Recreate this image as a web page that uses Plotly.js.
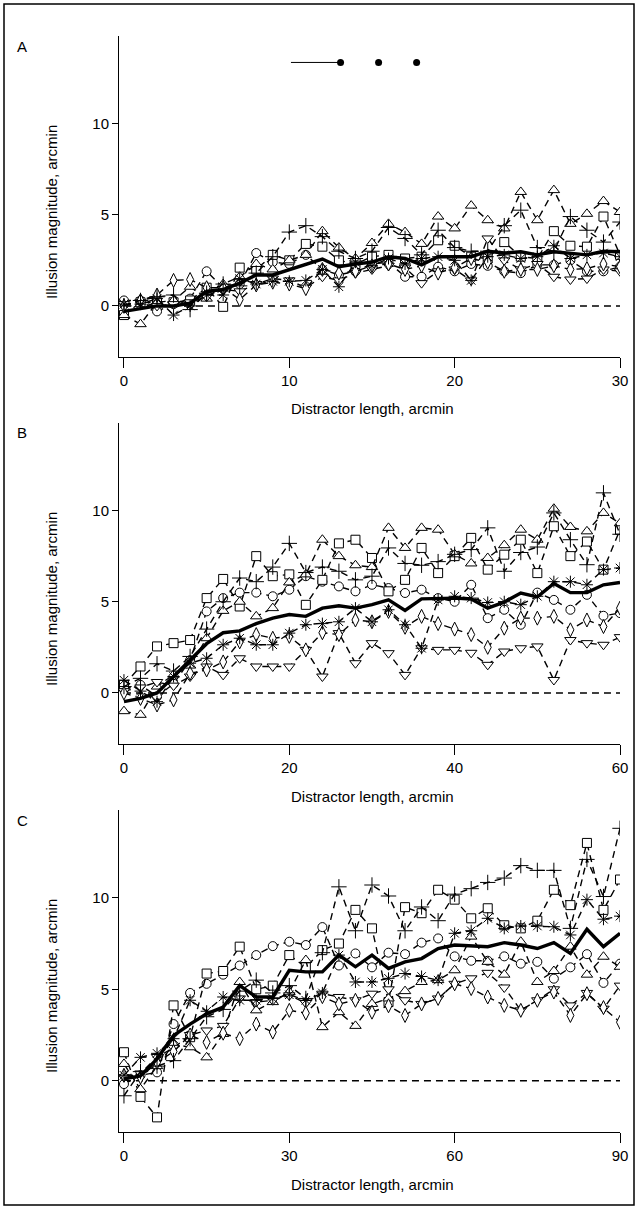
<!DOCTYPE html>
<html><head><meta charset="utf-8">
<script src="https://cdn.plot.ly/plotly-3.0.1.min.js"></script>
<style>html,body{margin:0;padding:0;background:#fff;}#chart{width:639px;height:1209px;}</style>
</head><body><div id="chart"></div>
<script>
// ---------- Panel A: distractor length 0..30 arcmin ----------
const xA = [0,1,2,3,4,5,6,7,8,9,10,11,12,13,14,15,16,17,18,19,20,21,22,23,24,25,26,27,28,29,30];
const meanA = [-0.3,-0.13,0,0,0.15,0.8,0.9,1.25,1.7,1.7,2.0,2.3,2.57,2.15,2.3,2.4,2.7,2.6,2.25,2.7,2.7,2.7,3.0,2.9,2.97,2.8,2.97,2.9,2.8,3.0,2.97];
const circleA = [0.3,0.3,-0.3,0.1,0.4,1.9,1.0,1.2,2.9,2.4,2.3,2.8,2.0,1.7,1.9,2.3,2.4,1.6,1.6,2.15,1.9,2.3,2.2,1.9,1.8,2.25,2.25,2.5,1.9,1.9,2.15];
const squareA = [-0.5,0.2,0.2,0.2,0.3,1.0,-0.05,2.1,2.0,2.8,2.5,3.4,3.25,2.5,2.3,2.7,2.8,2.6,2.7,3.6,3.3,2.7,2.6,3.5,2.7,2.6,4.1,3.3,3.25,4.9,2.8];
const triUpA = [-0.5,-1.0,0.2,0.3,1.05,0.4,1.2,1.6,2.3,2.0,2.5,2.8,4.1,3.2,2.6,3.45,4.5,4.05,3.4,4.9,4.25,5.5,4.7,4.25,6.25,4.7,6.35,4.5,5.05,5.75,5.15];
const triDownA = [0.1,0.2,0.0,0.1,0.2,0.5,0.9,0.8,1.2,1.5,1.4,1.0,1.6,1.4,1.8,2.0,2.2,2.1,1.25,1.9,2.0,1.4,3.7,2.5,2.0,2.3,1.6,1.45,1.5,2.0,1.9];
const diamondA = [0.0,0.3,0.6,1.4,1.45,1.0,1.0,0.35,1.15,1.3,1.2,0.95,2.0,1.8,1.9,2.2,2.3,2.0,2.2,1.8,2.1,2.6,2.4,1.9,2.0,2.0,2.2,2.0,2.05,2.3,2.15];
const plusA = [0.0,0.3,0.5,0.6,-0.2,0.7,1.2,1.1,1.8,2.7,4.05,4.4,3.8,3.0,2.6,3.0,4.3,3.7,2.8,4.15,3.2,3.0,3.0,4.4,5.25,3.2,3.0,4.9,4.15,3.5,4.6];
const asteriskA = [0.1,0.1,0.4,-0.5,0.0,0.6,0.6,1.5,1.2,1.35,1.35,1.4,2.0,1.05,2.4,2.2,2.6,2.3,2.6,2.7,2.5,1.4,2.7,2.8,2.6,2.7,3.3,2.6,2.8,2.9,2.7];

// ---------- Panel B: distractor length 0..60 arcmin ----------
const xB = [0,2,4,6,8,10,12,14,16,18,20,22,24,26,28,30,32,34,36,38,40,42,44,46,48,50,52,54,56,58,60];
const meanB = [-0.48,-0.3,0.0,0.9,1.8,2.7,3.3,3.4,3.8,4.1,4.3,4.2,4.65,4.78,4.65,4.84,5.1,4.52,5.16,5.16,5.2,5.15,4.65,4.98,5.48,5.26,6.0,5.5,5.5,5.93,6.06];
const circleB = [0.2,0.44,-0.2,0.5,1.8,4.47,5.2,5.5,5.5,5.3,5.66,6.4,6.1,5.84,5.57,5.93,5.75,5.48,5.66,5.2,5.0,5.93,4.1,4.56,3.74,5.5,5.1,4.56,5.38,4.23,4.38];
const squareB = [0.44,1.45,2.55,2.73,2.9,5.2,6.25,4.74,7.5,6.4,6.5,4.83,6.2,8.2,8.4,7.4,5.57,6.2,7.95,6.57,7.5,8.5,6.76,7.58,8.4,6.57,9.14,7.5,8.3,6.76,8.95];
const triUpB = [-1.0,-1.2,0.35,1.0,1.5,3.0,4.5,5.0,4.2,4.65,6.06,6.5,8.4,7.5,7.0,6.9,9.05,7.95,9.05,8.95,7.6,7.1,7.4,8.1,8.95,8.4,10.1,9.1,8.86,9.87,9.3];
const triDownB = [0.1,0.3,0.6,0.4,0.9,1.45,0.99,1.9,1.45,1.45,1.45,2.36,0.9,3.28,1.63,2.73,2.18,0.99,2.45,2.36,2.36,2.2,1.54,2.27,2.45,2.55,0.71,2.9,2.73,2.64,3.06];
const diamondB = [0.0,-0.3,-0.66,-0.38,1.08,1.26,1.7,2.8,3.2,3.0,3.1,2.36,3.3,3.2,4.0,3.9,4.47,3.6,4.2,3.8,3.5,3.2,2.5,3.55,4.1,4.1,4.2,3.46,4.0,3.64,4.65];
const plusB = [0.35,0.8,1.6,1.2,2.0,3.5,5.0,6.3,6.1,6.9,8.2,6.6,6.9,6.67,6.2,6.4,7.95,7.1,7.0,7.2,7.6,7.86,9.05,6.67,7.7,8.0,9.87,8.4,7.03,10.97,8.7];
const asteriskB = [0.7,0.1,-0.48,0.9,1.63,1.9,2.64,3.0,2.64,2.64,3.28,3.74,3.8,3.9,4.65,3.9,4.56,3.74,2.45,5.1,5.3,5.2,4.96,5.0,4.84,5.3,6.1,6.1,5.93,6.76,6.85];

// ---------- Panel C: distractor length 0..90 arcmin ----------
const xC = [0,3,6,9,12,15,18,21,24,27,30,33,36,39,42,45,48,51,54,57,60,63,66,69,72,75,78,81,84,87,90];
const meanC = [0.1,0.27,1.2,2.47,3.1,3.66,4.03,5.2,4.58,4.58,6.04,5.95,5.95,6.87,6.23,6.87,6.14,6.5,6.68,7.23,7.42,7.36,7.33,7.55,7.42,7.23,7.55,6.96,8.28,7.33,8.06];
const circleC = [-0.18,0.3,0.46,3.1,4.8,5.3,5.8,6.3,6.87,7.36,7.6,7.42,8.4,6.3,6.96,6.2,7.0,6.92,7.55,7.78,6.8,6.56,6.56,6.8,6.4,6.5,5.58,6.2,6.92,5.35,6.4];
const squareC = [1.56,-0.88,-2.0,4.12,2.38,5.86,6.0,7.33,5.0,5.2,6.87,6.2,7.14,7.5,9.34,8.33,4.3,9.49,9.16,10.44,9.9,8.88,9.43,8.5,8.33,8.75,10.44,9.6,13.0,9.34,11.0];
const triUpC = [0.92,-0.46,0.8,2.0,1.83,1.28,2.56,5.4,3.85,4.3,4.85,6.6,2.93,3.75,3.0,4.2,4.5,4.9,5.4,5.5,6.04,7.88,6.5,5.8,7.6,5.4,6.0,7.33,5.8,6.78,6.23];
const triDownC = [0.2,0.4,1.3,1.8,2.5,2.75,3.0,4.5,4.3,4.4,4.67,4.25,4.76,4.58,4.4,4.76,5.0,4.4,4.2,4.5,5.3,5.6,5.9,5.1,3.85,4.4,5.0,4.12,4.8,3.94,5.2];
const diamondC = [0.3,0.2,1.0,1.6,2.5,2.1,2.6,2.3,3.1,2.66,3.85,3.7,4.6,4.2,4.4,3.75,4.1,3.57,4.2,4.5,5.3,5.04,4.58,4.12,3.85,4.4,4.85,3.57,4.76,4.0,3.2];
const plusC = [-0.82,0.5,0.8,1.1,2.3,3.5,3.9,4.9,5.5,4.8,5.2,4.5,7.0,10.6,8.2,10.7,10.1,8.2,9.5,8.75,10.2,10.5,10.84,11.08,11.76,11.5,11.5,8.33,12.1,10.07,13.8];
const asteriskC = [0.3,1.28,1.5,2.3,4.4,3.8,4.58,4.4,4.4,4.5,4.7,4.4,4.8,6.87,5.4,5.4,5.6,5.86,5.7,5.5,8.06,8.2,8.88,8.33,8.46,8.46,8.42,7.97,9.9,8.83,9.0];

// ---------- Stimulus icon (panel A, top) ----------
const stimLineX = [10.1, 13.1];
const stimLineY = [13.35, 13.35];
const stimDotsX = [13.1, 15.4, 17.7];
const stimDotsY = [13.35, 13.35, 13.35];

// ---------- Tick labels / texts ----------
const yTicks = [0, 5, 10];
const xTicksA = [0, 10, 20, 30];
const xTicksB = [0, 20, 40, 60];
const xTicksC = [0, 30, 60, 90];
const panelLabels = ['A', 'B', 'C'];
const xTitle = 'Distractor length, arcmin';
const yTitle = 'Illusion magnitude, arcmin';

const FONT = 'Liberation Sans, Arial, Helvetica, sans-serif';
const DASH = '7px,5px';

const symbols = [
  {key: 'circle', sym: 'circle', open: false, size: 9},
  {key: 'square', sym: 'square', open: false, size: 9},
  {key: 'triUp', sym: 'triangle-up', open: false, size: 10},
  {key: 'triDown', sym: 'triangle-down', open: false, size: 10},
  {key: 'diamond', sym: 'diamond-tall', open: false, size: 10},
  {key: 'plus', sym: 'cross-thin-open', open: true, size: 11},
  {key: 'asterisk', sym: 'asterisk-open', open: true, size: 10}
];

const panels = [
  {x: xA, mean: meanA, s: {circle: circleA, square: squareA, triUp: triUpA, triDown: triDownA, diamond: diamondA, plus: plusA, asterisk: asteriskA}, xa: 'x', ya: 'y'},
  {x: xB, mean: meanB, s: {circle: circleB, square: squareB, triUp: triUpB, triDown: triDownB, diamond: diamondB, plus: plusB, asterisk: asteriskB}, xa: 'x2', ya: 'y2'},
  {x: xC, mean: meanC, s: {circle: circleC, square: squareC, triUp: triUpC, triDown: triDownC, diamond: diamondC, plus: plusC, asterisk: asteriskC}, xa: 'x3', ya: 'y3'}
];

const traces = [];
panels.forEach(p => {
  traces.push({x: [p.x[0], p.x[p.x.length - 1]], y: [0, 0], xaxis: p.xa, yaxis: p.ya, mode: 'lines',
    line: {color: 'black', width: 1.4, dash: DASH}, hoverinfo: 'skip'});
  symbols.forEach(sd => {
    const marker = sd.open
      ? {symbol: sd.sym, size: sd.size, color: 'black', line: {color: 'black', width: 1}}
      : {symbol: sd.sym, size: sd.size, color: 'white', line: {color: 'black', width: 1}};
    traces.push({x: p.x, y: p.s[sd.key], xaxis: p.xa, yaxis: p.ya, mode: 'lines+markers', name: sd.key,
      line: {color: 'black', width: 1.4, dash: DASH}, marker: marker});
  });
  traces.push({x: p.x, y: p.mean, xaxis: p.xa, yaxis: p.ya, mode: 'lines', name: 'mean',
    line: {color: 'black', width: 3.4}});
});
traces.push({x: stimLineX, y: stimLineY, xaxis: 'x', yaxis: 'y', mode: 'lines', line: {color: 'black', width: 1}});
traces.push({x: stimDotsX, y: stimDotsY, xaxis: 'x', yaxis: 'y', mode: 'markers', marker: {color: 'black', size: 7}});

const W = 639, H = 1209;
const px = v => v / W;
const py = v => 1 - v / H;

function xAxis(range, ticks, anchor) {
  return {domain: [px(119), px(620)], anchor: anchor, range: range, tickvals: ticks, ticktext: ticks.map(String),
    showline: true, linecolor: 'black', linewidth: 1, ticks: 'outside', ticklen: 10, tickwidth: 1, tickcolor: 'black',
    showgrid: false, zeroline: false, tickfont: {family: FONT, size: 15, color: 'black'}, fixedrange: true};
}
function yAxis(top, bottom, anchor) {
  return {domain: [py(bottom), py(top)], anchor: anchor, range: [-2.8, 14.8], tickvals: yTicks, ticktext: yTicks.map(String),
    showline: true, linecolor: 'black', linewidth: 1, ticks: 'outside', ticklen: 6, tickwidth: 1, tickcolor: 'black',
    showgrid: false, zeroline: false, tickfont: {family: FONT, size: 15, color: 'black'}, fixedrange: true};
}

const panelTops = [36, 423, 810];
const panelBottoms = [357, 744, 1132];
const annotations = [];
panelTops.forEach((t, i) => {
  annotations.push({text: panelLabels[i], xref: 'paper', yref: 'paper', x: px(22), y: py(t + 10), showarrow: false,
    xanchor: 'center', yanchor: 'middle', font: {family: FONT, size: 15, color: 'black'}});
  annotations.push({text: yTitle, xref: 'paper', yref: 'paper', x: px(51), y: py(t + 176), showarrow: false, textangle: -90,
    xanchor: 'center', yanchor: 'middle', font: {family: FONT, size: 15, color: 'black'}});
  annotations.push({text: xTitle, xref: 'paper', yref: 'paper', x: px(372), y: py(panelBottoms[i] + 52), showarrow: false,
    xanchor: 'center', yanchor: 'middle', font: {family: FONT, size: 15, color: 'black'}});
});

const layout = {
  width: W, height: H, margin: {l: 0, r: 0, t: 0, b: 0}, showlegend: false,
  paper_bgcolor: 'white', plot_bgcolor: 'white', font: {family: FONT, color: 'black'},
  xaxis: xAxis([-0.3, 30], xTicksA, 'y'),
  yaxis: yAxis(36, 357, 'x'),
  xaxis2: xAxis([-0.6, 60], xTicksB, 'y2'),
  yaxis2: yAxis(423, 744, 'x2'),
  xaxis3: xAxis([-0.9, 90], xTicksC, 'y3'),
  yaxis3: yAxis(810, 1132, 'x3'),
  annotations: annotations,
  shapes: [{type: 'rect', xref: 'paper', yref: 'paper', x0: px(4), x1: px(634), y0: py(1205), y1: py(4),
    line: {color: 'black', width: 1.5}, fillcolor: 'rgba(0,0,0,0)'}]
};

Plotly.newPlot('chart', traces, layout, {staticPlot: true, displayModeBar: false});
</script></body></html>
